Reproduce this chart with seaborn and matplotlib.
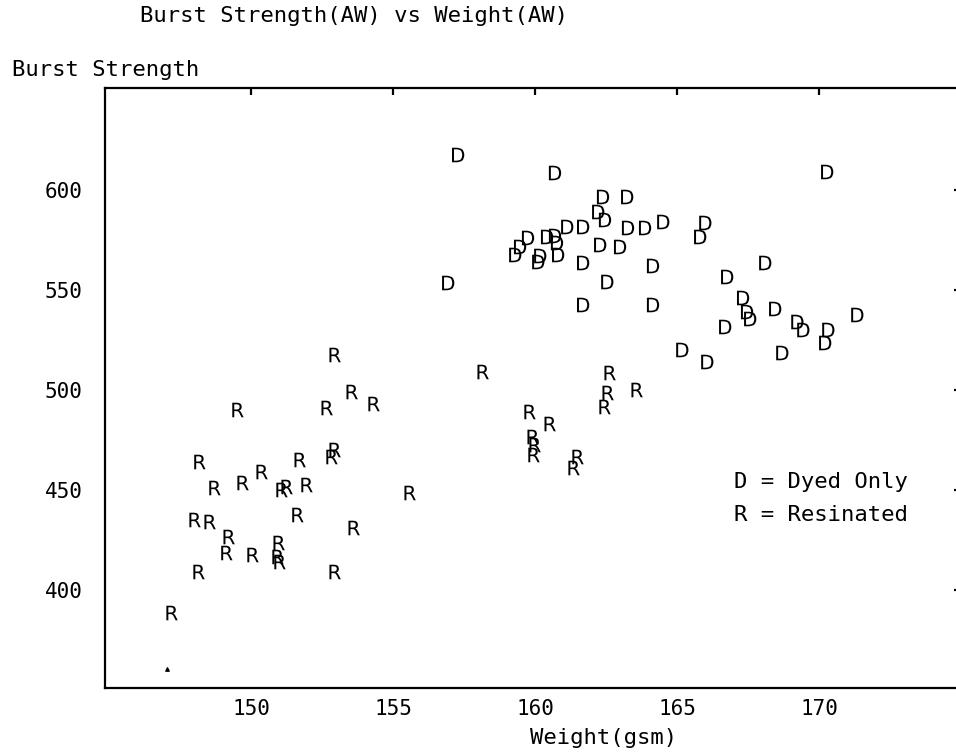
# Burst Strength(AW) vs Weight(AW) - letter scatter (D = Dyed Only, R = Resinated)

import pandas as pd
import seaborn as sns
import matplotlib.pyplot as plt


# data
dyed_weight = [157.29, 160.70, 170.28, 162.39, 163.24, 162.22, 162.46, 161.13,
               161.69, 163.27, 163.87, 164.51, 165.99, 165.81, 159.75, 160.42,
               160.70, 160.77, 159.47, 159.30, 160.18, 160.11, 160.81, 162.29,
               162.99, 161.69, 164.15, 168.10, 166.76, 162.54, 156.94, 167.32,
               167.46, 167.57, 168.45, 169.23, 169.44, 170.32, 170.21, 171.34,
               166.69, 161.69, 164.15, 165.18, 166.06, 168.70]
dyed_burst = [617.5, 608.5, 609.0, 596.5, 596.5, 589.0, 585.0, 581.5,
              581.5, 581.0, 581.0, 584.0, 583.5, 576.5, 576.0, 576.5,
              577.0, 573.5, 571.5, 567.5, 567.0, 564.0, 567.5, 572.5,
              571.5, 563.5, 562.0, 563.5, 556.5, 554.0, 553.5, 546.0,
              539.0, 535.5, 540.5, 534.0, 530.0, 530.0, 523.5, 537.5,
              531.5, 542.5, 542.5, 520.0, 514.0, 518.5]

resin_weight = [152.96, 153.56, 154.33, 152.68, 149.54, 158.17, 162.64, 163.59,
                162.57, 162.46, 159.82, 160.53, 159.93, 160.00, 159.96, 161.51,
                161.37, 148.20, 148.73, 149.72, 150.39, 151.09, 151.27, 151.73,
                151.97, 152.85, 152.96, 155.60, 148.03, 148.56, 151.65, 153.63,
                149.23, 149.15, 150.07, 150.99, 150.95, 151.02, 148.17, 152.96,
                147.22]
resin_burst = [517.5, 499.0, 493.0, 491.0, 490.0, 509.0, 508.5, 500.0,
               498.5, 491.5, 489.0, 483.0, 476.5, 472.5, 467.5, 466.5,
               461.0, 464.0, 451.0, 453.5, 459.0, 450.0, 451.5, 465.0,
               452.5, 466.5, 470.0, 448.5, 435.0, 434.0, 437.5, 431.0,
               426.5, 418.5, 417.5, 423.5, 416.5, 414.0, 409.0, 409.0,
               388.5]

stray_weight = [147.04]
stray_burst = [360.5]

x_ticks = [150, 155, 160, 165, 170]
y_ticks = [400, 450, 500, 550, 600]


df = pd.DataFrame({
    "weight": dyed_weight + resin_weight,
    "burst": dyed_burst + resin_burst,
    "group": ["D"] * len(dyed_weight) + ["R"] * len(resin_weight),
})


# style
sns.set_theme(style="white")
plt.rcParams["font.family"] = ["DejaVu Sans Mono", "DejaVu Sans"]
plt.rcParams["mathtext.fontset"] = "dejavusans"
plt.rcParams["text.color"] = "black"


fig = plt.figure(figsize=(9.56, 7.53), dpi=100)
ax = fig.add_axes([105 / 956, 65 / 753, 856 / 956, 600 / 753])

sns.scatterplot(
    data=df,
    x="weight",
    y="burst",
    style="group",
    markers={"D": r"$\mathsf{D}$", "R": r"$\mathsf{R}$"},
    color="black",
    s=110,
    linewidth=0,
    legend=False,
    ax=ax
)

ax.scatter(stray_weight, stray_burst, marker="^", s=6, color="black")

ax.set_xlim(144.86, 174.99)
ax.set_ylim(351, 651)
ax.set_xticks(x_ticks)
ax.set_yticks(y_ticks)

for s in ax.spines.values():
    s.set_color("black")
    s.set_linewidth(1.6)

ax.tick_params(
    direction="in",
    length=5,
    width=1.6,
    top=True,
    right=True,
    labelsize=15,
    colors="black"
)
ax.tick_params(axis="x", pad=8)
ax.tick_params(axis="y", pad=16)

ax.set_xlabel("Weight(gsm)", fontsize=16, color="black")
ax.xaxis.set_label_coords(0.583, -0.066)
ax.set_ylabel("")

# legend as plain text, like the original
ax.text(0.735, 0.343, "D = Dyed Only", transform=ax.transAxes,
        fontsize=16, va="center", ha="left")
ax.text(0.735, 0.288, "R = Resinated", transform=ax.transAxes,
        fontsize=16, va="center", ha="left")

fig.text(140 / 956, 1 - 16 / 753, "Burst Strength(AW) vs Weight(AW)",
         fontsize=16, va="center", ha="left")
fig.text(12 / 956, 1 - 70 / 753, "Burst Strength",
         fontsize=16, va="center", ha="left")

plt.savefig("out.png", dpi=100)
plt.close()
